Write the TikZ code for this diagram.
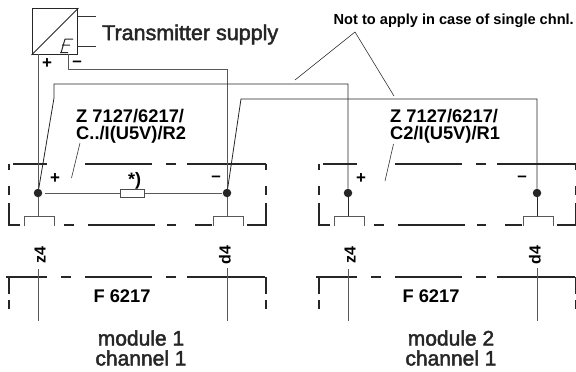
\documentclass[tikz,border=0pt]{standalone}
\usepackage{fontspec}
\setmainfont{Liberation Sans}
\newcommand{\heavytext}[1]{\special{pdf:code 2 Tr 0.45 w}#1\special{pdf:code 0 Tr}}
\tikzset{
  wire/.style={line width=0.8pt,draw=black!65},
  darkwire/.style={line width=0.8pt,draw=black!85},
  frame/.style={line width=1.4pt,draw=black!85},
  thin leader/.style={line width=0.6pt,draw=black!80},
  dot/.style={circle,fill=black!85,draw=none,minimum size=8.5pt,inner sep=0pt},
  lbl/.style={font=\fontsize{18.3}{16.5}\selectfont\bfseries,inner sep=0pt,text=black},
  big/.style={font=\fontsize{21}{20}\selectfont,inner sep=0pt,text=black!85},
  sign/.style={font=\fontsize{17}{17}\selectfont\bfseries,inner sep=0pt},
  pin/.style={font=\fontsize{16}{16}\selectfont\bfseries,inner sep=0pt,rotate=90},
  res/.style={draw=black!70,line width=0.7pt,fill=white,minimum width=24pt,minimum height=8.5pt,inner sep=0pt}
}
\newcommand{\modframe}[1]{%
  \begin{scope}[xshift=#1pt]
  \draw[frame] (13,164)--(47,164) (85,164)--(152,164) (166,164)--(176,164) (187,164)--(266,164);
  \draw[frame] (9,164)--(9,170) (9,186)--(9,195) (9,203)--(9,225)--(20,225) (64,225)--(74,225) (88,225)--(155,225) (167,225)--(176,225) (195,225)--(212,225) (247,225)--(266,225)--(266,203) (266,195)--(266,186) (266,170)--(266,164);
  \draw[frame] (6,277)--(47,277) (61,277)--(71,277) (85,277)--(152,277) (166,277)--(176,277) (187,277)--(265,277);
  \draw[frame] (9,277)--(9,294) (9,300)--(9,309) (266,277)--(266,294) (266,300)--(266,309);
  \draw[wire] (24,226)--(24,216)--(54,216)--(54,226) (213,226)--(213,216)--(243,216)--(243,226);
  \draw[wire] (38,269)--(38,321) (227,268)--(227,321);
  \end{scope}}
\begin{document}
\begin{tikzpicture}[x=1pt,y=-1pt]
\useasboundingbox (0,0) rectangle (576,372);
% converter
\node[draw=black!85,line width=1.3pt,minimum size=45.5pt,inner sep=0pt] (conv) at (55,31.5) {};
\draw[line width=1pt,draw=black!85] (conv.south west)--(conv.north east);
\draw[line width=1pt,draw=black!85] (65,39)--(61,53) (65,39)--(73,39) (62,45)--(70,45) (60,52.5)--(68,52.5);
\coordinate (s1) at (96,16);
\coordinate (s2) at (96,46);
\draw[thin leader] (78,16)--(s1) (78,46)--(s2);
\node[big,anchor=west,font=\fontsize{21.5}{21.5}\selectfont] (ts) at (102,34.5) {\heavytext{Transmitter supply}};
\node[sign] (pp) at (47,64) {+};
\node[sign] (pm) at (77,64) {--};
% frames
\modframe{0}
\modframe{310}
% terminals
\node[dot] (a) at (38,193) {};
\node[dot] (b) at (227,193) {};
\node[dot] (c) at (348,193) {};
\node[dot] (d) at (537,193) {};
\coordinate (az) at (38,216);
\coordinate (bz) at (227,216);
\coordinate (cz) at (348,216);
\coordinate (dz) at (537,216);
\draw[wire] (a)--(az) (b)--(bz);
\draw[darkwire] (c)--(cz) (d)--(dz);
% resistor
\node[res] (r) at (132.5,193.5) {};
\draw[wire] (45,193.5)--(r.west) (r.east)--(222,193.5);
\node[font=\fontsize{18}{18}\selectfont\bfseries,inner sep=0pt] (star) at (134.5,181) {*)};
% wiring
\coordinate (p1) at (38,54);
\coordinate (m1) at (68,54);
\draw[wire] (p1)--(a);
\draw[wire] (m1)--(68,69)--(227,69)--(b);
\draw[darkwire] (a)--(54,98)--(54,84)--(348,84)--(c);
\draw[darkwire] (b)--(241,99)--(537,99)--(d);
% labels
\node[lbl,anchor=west,align=left] (l1) at (76,126.5) {Z 7127/6217/\\C../I(U5V)/R2};
\node[lbl,anchor=west,align=left] (l3) at (390,126.5) {Z 7127/6217/\\C2/I(U5V)/R1};
\draw[thin leader] (80,143)--(71.5,178) (393.5,144)--(385,181);
\node[font=\fontsize{14.6}{14.6}\selectfont\bfseries,inner sep=0pt,anchor=east] (na) at (574,20.5) {Not to apply in case of single chnl.};
\draw[thin leader] (295,80)--(355,32)--(394,96);
\node[sign] (s1p) at (55,179) {+};
\node[sign] (s1m) at (216,179) {--};
\node[sign] (s2p) at (361,179) {+};
\node[sign] (s2m) at (522,179) {--};
\node[pin] (z1) at (40,255) {z4};
\node[pin] (d1) at (225,255) {d4};
\node[pin] (z2) at (350,255) {z4};
\node[pin] (d2) at (535,255) {d4};
\node[lbl] (f1) at (122,296.5) {F 6217};
\node[lbl] (f2) at (431,296.5) {F 6217};
\node[big,align=center] (m1t) at (141,348) {\heavytext{module 1}\\\heavytext{channel 1}};
\node[big,align=center] (m2t) at (451,348) {\heavytext{module 2}\\\heavytext{channel 1}};
\end{tikzpicture}
\end{document}
